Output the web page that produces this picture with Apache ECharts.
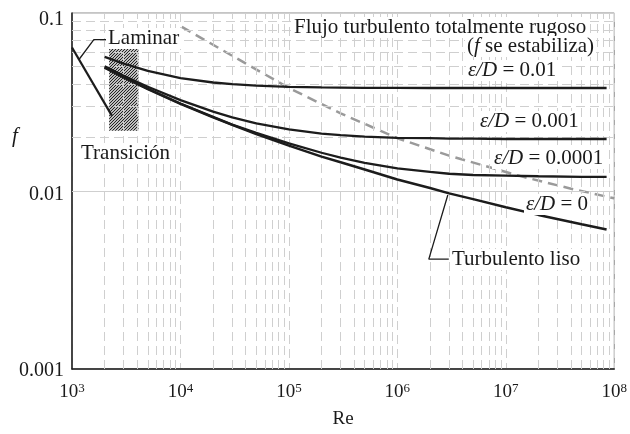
<!DOCTYPE html>
<html>
<head>
<meta charset="utf-8">
<script src="https://cdn.jsdelivr.net/npm/echarts@6/dist/echarts.min.js"></script>
<style>
html,body{margin:0;padding:0;background:#fff;}
#c{width:630px;height:434px;}
</style>
</head>
<body>
<div id="c"></div>
<script>
// ---- Data ----
const reValues = [2000, 3000, 5000, 1e4, 2e4, 3e4, 5e4, 1e5, 2e5, 3e5, 5e5, 1e6, 2e6, 3e6, 5e6, 1e7, 2e7, 5e7, 8.5e7];
const fRough01   = [0.0567, 0.0519, 0.0473, 0.0431, 0.0407, 0.0398, 0.0391, 0.0385, 0.0382, 0.0381, 0.0380, 0.0380, 0.0379, 0.0379, 0.0379, 0.0379, 0.0379, 0.0379, 0.0379];
const fRough001  = [0.0502, 0.0444, 0.0385, 0.0324, 0.0279, 0.0259, 0.0240, 0.0222, 0.0210, 0.0206, 0.0202, 0.0199, 0.0198, 0.0197, 0.0197, 0.0196, 0.0196, 0.0196, 0.0196];
const fRough0001 = [0.0495, 0.0436, 0.0375, 0.0310, 0.0261, 0.0236, 0.0212, 0.0185, 0.0164, 0.0154, 0.0144, 0.0134, 0.0128, 0.0125, 0.0123, 0.0122, 0.0121, 0.0120, 0.0120];
const fSmooth    = [0.0494, 0.0435, 0.0374, 0.0309, 0.0259, 0.0235, 0.0209, 0.0180, 0.0156, 0.0145, 0.0132, 0.0116, 0.0104, 0.0097, 0.0090, 0.0081, 0.00734, 0.0065, 0.00607];

const reLaminar = [1000, 2330];
const fLaminar  = [0.064, 0.0265];

const reRoughBoundary = [1.03e4, 3e4, 1e5, 3e5, 1e6, 3e6, 1.45e7, 4e7, 1e8];
const fRoughBoundary  = [0.0836, 0.0575, 0.0379, 0.0273, 0.0198, 0.0158, 0.0120, 0.0103, 0.0091];

const transitionRe = [2200, 4100];
const transitionF  = [0.0218, 0.063];

const leaderLaminarRe = [2100, 1590, 1160];
const leaderLaminarF  = [0.0708, 0.0708, 0.0548];
const leaderSmoothRe  = [2.98e6, 1.95e6, 2.92e6];
const leaderSmoothF   = [0.00414, 0.00414, 0.0095];

const xTickExponents = ['3', '4', '5', '6', '7', '8'];
const yTickLabels = ['0.001', '0.01', '0.1'];

const xMinorGrid = [];
[1e3, 1e4, 1e5, 1e6, 1e7].forEach(d => { [2,3,4,5,6,7,8,9].forEach(m => xMinorGrid.push(m * d)); });
const yMinorGrid = [];
[1e-3, 1e-2].forEach(d => { [2,3,4,5,6,7,8,9].forEach(m => yMinorGrid.push(+(m * d).toPrecision(3))); });

// ---- helpers ----
const zip = (xs, ys) => xs.map((x, i) => [x, ys[i]]);
const serif = '"Liberation Serif", "DejaVu Serif", serif';

const hatch = document.createElement('canvas');
hatch.width = 6; hatch.height = 6;
(function(){
  const ctx = hatch.getContext('2d');
  ctx.fillStyle = '#fff';
  ctx.fillRect(0, 0, 6, 6);
  ctx.strokeStyle = '#1a1a1a';
  ctx.lineWidth = 1.1;
  ctx.beginPath();
  [-6, -3, 0, 3, 6].forEach(x0 => { ctx.moveTo(x0 - 1, 7); ctx.lineTo(x0 + 7, -1); });
  ctx.stroke();
})();

const chart = echarts.init(document.getElementById('c'), null, {renderer: 'canvas'});

const curveStyle = (w) => ({color: '#1c1c1c', width: w});
const txt = (left, top, text, extra) => ({
  type: 'text', left: left, top: top, z: 50,
  style: Object.assign({text: text, font: '21px ' + serif, fill: '#1a1a1a', backgroundColor: '#fff', padding: [0, 2, 0, 2],
    rich: {i: {fontFamily: serif, fontSize: 21, fontStyle: 'italic', fill: '#1a1a1a'}}}, extra || {})
});

const option = {
  animation: false,
  backgroundColor: '#fff',
  grid: {left: 72, top: 13, width: 544, height: 360, show: true, borderColor: '#8a8a8a', borderWidth: 1, backgroundColor: 'transparent'},
  xAxis: {
    type: 'log', logBase: 10, min: 1e3, max: 1e8, splitNumber: 5,
    axisLine: {show: true, onZero: false, lineStyle: {color: '#1a1a1a', width: 1.5}},
    axisTick: {show: false},
    splitLine: {show: true, lineStyle: {color: '#cfcfcf', width: 1, type: [9, 5]}},
    axisLabel: {
      margin: 13,
      formatter: v => { const e = Math.round(Math.log10(v)); return '10{s|' + xTickExponents[e - 3] + '}'; },
      color: '#1a1a1a', fontFamily: serif, fontSize: 19,
      rich: {s: {fontFamily: serif, fontSize: 13, color: '#1a1a1a', verticalAlign: 'top', padding: [0, 0, 7, 0]}}
    },
    name: 'Re', nameLocation: 'middle', nameGap: 41,
    nameTextStyle: {fontFamily: serif, fontSize: 19, color: '#1a1a1a'}
  },
  yAxis: {
    type: 'log', logBase: 10, min: 1e-3, max: 1e-1, splitNumber: 2,
    axisLine: {show: true, onZero: false, lineStyle: {color: '#1a1a1a', width: 1.5}},
    axisTick: {show: false},
    splitLine: {show: true, lineStyle: {color: '#cfcfcf', width: 1, type: 'solid'}},
    axisLabel: {
      margin: 8,
      formatter: v => { const e = Math.round(Math.log10(v)); const t = yTickLabels[e + 3]; return e === -1 ? '{a|' + t + '}' : (e === -2 ? '{b|' + t + '}' : '{c|' + t + '}'); },
      color: '#1a1a1a', fontFamily: serif, fontSize: 20,
      rich: {
        a: {fontFamily: serif, fontSize: 20, color: '#1a1a1a', padding: [14, 0, 0, 0]},
        b: {fontFamily: serif, fontSize: 20, color: '#1a1a1a', padding: [8, 0, 0, 0]},
        c: {fontFamily: serif, fontSize: 20, color: '#1a1a1a', padding: [3, 0, 0, 0]}
      }
    }
  },
  graphic: [
    txt(106, 28, 'Laminar'),
    txt(79, 143, 'Transición'),
    txt(292, 17, 'Flujo turbulento totalmente rugoso'),
    txt(465, 36, '({i|f} se estabiliza)'),
    txt(466, 60, '{i|ε/D} = 0.01'),
    txt(478, 111, '{i|ε/D} = 0.001'),
    txt(492, 148, '{i|ε/D} = 0.0001'),
    txt(524, 194, '{i|ε/D} = 0'),
    txt(450, 249, 'Turbulento liso'),
    {type: 'text', left: 12, top: 126, style: {text: 'f', font: 'italic 21px ' + serif, fill: '#1a1a1a'}}
  ],
  series: [
    {
      type: 'line', data: [], z: 1, silent: true,
      markLine: {
        silent: true, symbol: ['none', 'none'], animation: false,
        label: {show: false},
        lineStyle: {color: '#cfcfcf', width: 1, type: [9, 5]},
        data: xMinorGrid.map(v => ({xAxis: v})).concat(yMinorGrid.map(v => ({yAxis: v})))
      }
    },
    {
      type: 'line', data: zip(reLaminar, fLaminar), showSymbol: false, symbol: 'none', z: 5,
      lineStyle: curveStyle(2.2),
      markArea: {
        silent: true,
        itemStyle: {color: {image: hatch, repeat: 'repeat'}, borderWidth: 0, opacity: 1},
        data: [[{coord: [transitionRe[0], transitionF[1]]}, {coord: [transitionRe[1], transitionF[0]]}]]
      }
    },
    {type: 'line', data: zip(reRoughBoundary, fRoughBoundary), symbol: 'none', smooth: false, z: 4,
     lineStyle: {color: '#9a9a9a', width: 2.5, type: [10, 6]}},
    {type: 'line', data: zip(reValues, fRough01), symbol: 'none', z: 5, lineStyle: curveStyle(2.3)},
    {type: 'line', data: zip(reValues, fRough001), symbol: 'none', z: 5, lineStyle: curveStyle(2.3)},
    {type: 'line', data: zip(reValues, fRough0001), symbol: 'none', z: 5, lineStyle: curveStyle(2.3)},
    {type: 'line', data: zip(reValues, fSmooth), symbol: 'none', z: 5, lineStyle: curveStyle(2.5)},
    {type: 'line', data: zip(leaderLaminarRe, leaderLaminarF), symbol: 'none', z: 5, lineStyle: curveStyle(1.3)},
    {type: 'line', data: zip(leaderSmoothRe, leaderSmoothF), symbol: 'none', z: 5, lineStyle: curveStyle(1.3)}
  ]
};
chart.setOption(option);
</script>
</body>
</html>
